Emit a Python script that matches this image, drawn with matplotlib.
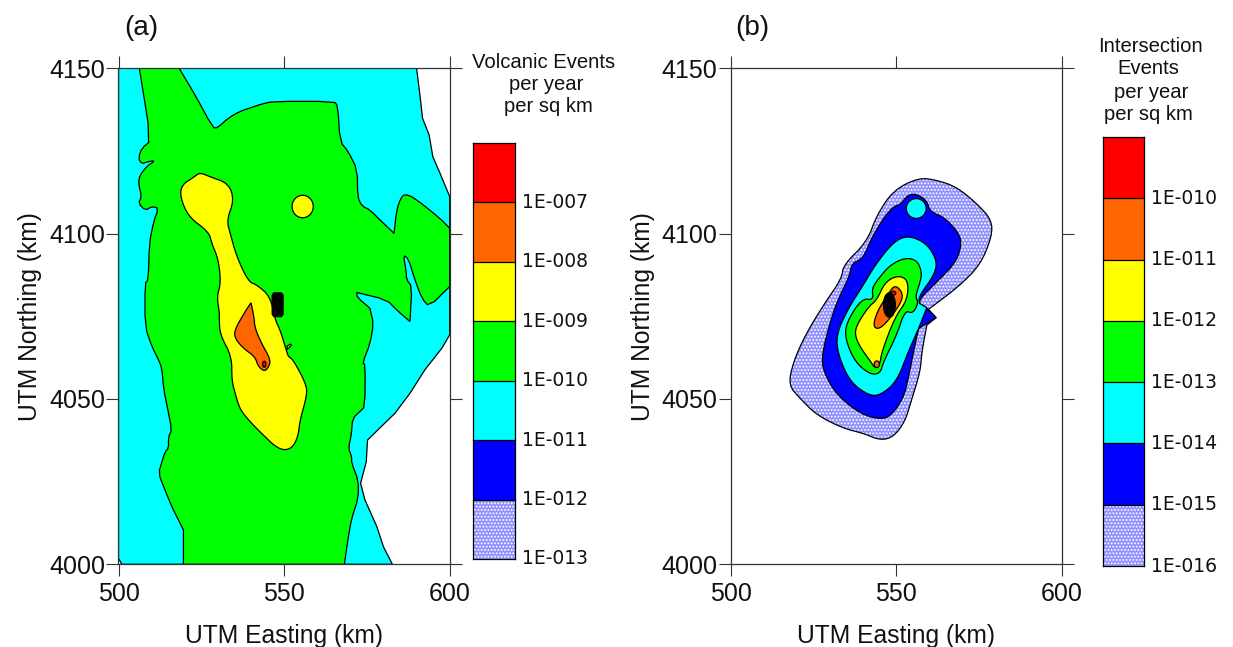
import matplotlib
matplotlib.use('Agg')
import matplotlib.pyplot as plt
from matplotlib.patches import Polygon, Ellipse

W, H = 1233, 647
plt.rcParams['font.family'] = ['Liberation Sans', 'DejaVu Sans']
plt.rcParams['hatch.linewidth'] = 0.9

RED = '#ff0000'
ORANGE = '#ff6600'
YELLOW = '#ffff00'
GREEN = '#00ff00'
CYAN = '#00ffff'
BLUE = '#0000ff'
HATCH_FACE = '#8f8fff'

xticks = [500, 550, 600]
yticks = [4000, 4050, 4100, 4150]

# panel a contours, km
a_cyan = [(500, 4150), (590, 4150), (591, 4142), (591.8, 4134.9), (593.8, 4129.8), (594.9, 4123.3),
          (597.1, 4118.2), (600, 4111.2), (600, 4069.4), (597.6, 4065.3), (592.5, 4058.8), (588, 4051.7),
          (583.5, 4045.7), (575.2, 4037.6), (574.8, 4031), (573.1, 4024.5), (574.4, 4019.5), (578, 4011.4),
          (580, 4005.3), (582.7, 4000), (501, 4000), (500, 4001.8)]
a_green = [(506.3, 4150), (518.3, 4150), (523.1, 4142), (528.5, 4132), (529.9, 4132), (533.2, 4135),
           (536.7, 4137), (539.7, 4138), (543.2, 4139.2), (546.8, 4140), (565.1, 4140), (566.2, 4138.6),
           (566.9, 4127.8), (569.4, 4124.8), (572.1, 4119.3), (572.2, 4111.2), (573.4, 4108.4), (575.9, 4107.2),
           (579.5, 4103.6), (583.2, 4100.1), (584, 4107.2), (585.2, 4110.7), (586.5, 4112), (589.5, 4110.7),
           (597.1, 4104.6), (600, 4101.6), (600, 4084), (593.8, 4077.9), (591.6, 4080.4), (589.5, 4086),
           (587.5, 4092.5), (586, 4093.5), (586.8, 4089), (587, 4086), (588.6, 4084), (588, 4073.4),
           (584, 4076.9), (581, 4080), (571.9, 4082.2), (572.1, 4080.7), (576, 4077.4), (576, 4076.9),
           (577, 4072.9), (576, 4066.8), (573.7, 4061), (574.5, 4060.3), (574.4, 4047.7), (572.9, 4046.2),
           (570.7, 4044.2), (570.3, 4039.1), (569.4, 4035.1), (570.4, 4032.6), (570.4, 4030.5), (572.4, 4025.5),
           (572.4, 4020), (570.4, 4013.9), (569.4, 4008.4), (568.2, 4000), (519.6, 4000), (519.6, 4010.4),
           (518.1, 4013.4), (516.1, 4017.4), (513.6, 4023.5), (512.1, 4027.5), (513.1, 4031), (514.1, 4034.1),
           (515.1, 4035.1), (515.1, 4038.6), (516.1, 4040.6), (514.8, 4047.2), (513.6, 4053.2), (513.1, 4059.3),
           (512.1, 4061.8), (510.1, 4065.8), (508, 4071.9), (508, 4085), (509, 4086), (509.3, 4097),
           (510.6, 4103.6), (512.1, 4107.7), (510.1, 4108.2), (508.1, 4107), (506, 4109.2), (507, 4111.2),
           (506, 4115.2), (506.5, 4117.7), (508.5, 4120.3), (511.1, 4122.1), (509, 4121.8), (507, 4121.1),
           (506, 4122.8), (507, 4125.8), (509.8, 4128.1)]
a_yellow = [(524.6, 4118.5), (527.6, 4117.2), (533.2, 4115.2), (534.9, 4110.2), (532.7, 4104.1), (533.7, 4100.1),
            (535.7, 4093), (539.2, 4085.5), (541.8, 4084.5), (545.8, 4081), (547.3, 4073.9), (548.8, 4070.9),
            (550.8, 4064.3), (551.3, 4062.8), (552.8, 4061.8), (556.8, 4054.2), (556.8, 4050.7), (554.8, 4043.6),
            (554.3, 4039.1), (552.8, 4035.6), (550.3, 4034.4), (547.3, 4035.6), (543.2, 4039.6), (540.2, 4042.6),
            (536.7, 4046.7), (535.2, 4051.7), (534.2, 4055.7), (534.2, 4062.8), (530.7, 4069.4), (530.4, 4073.9),
            (530.5, 4075.9), (529.7, 4081), (530.9, 4085), (530.2, 4092), (528.2, 4097), (527.2, 4100.6),
            (521.1, 4105.1), (518.6, 4111.2), (519.1, 4114.7), (522.6, 4117)]
a_yellow_speck = [(551, 4065), (552.2, 4066.2), (552, 4066.6), (550.9, 4066)]
a_orange = [(540, 4079.1), (540.9, 4074.9), (541.2, 4071.4), (543.2, 4066.8), (545.7, 4062.3), (545.7, 4060.3),
            (544.2, 4058.2), (542.2, 4059.8), (541.2, 4062.8), (537.7, 4065.3), (535.2, 4068.3), (535, 4070.8),
            (538.2, 4076.4)]
a_block = [(546.9, 4082.1), (549.2, 4082.1), (549.7, 4081.4), (549.7, 4075.6), (549.2, 4074.9), (546.9, 4074.9),
           (546.4, 4075.6), (546.4, 4081.4)]
# ellipses: colour, centre x, centre y, radius x, radius y
a_spots = [(YELLOW, 555.6, 4108.2, 3.2, 3.4), (RED, 544, 4060.5, 0.5, 0.9)]
a_green_sharp = [(506.3, 4150), (518.3, 4150), (583.2, 4100.1), (600, 4101.6), (600, 4084), (588, 4073.4),
                 (571.9, 4082.2), (568.2, 4000), (519.6, 4000), (519.6, 4010.4)]

# panel b contours, km
b_hatched = [(556.7, 4116.9), (562.2, 4116.2), (568.2, 4114.1), (574.3, 4109.1), (578.8, 4104.1), (578.8, 4099),
             (575.3, 4090.5), (568.7, 4083.9), (559.7, 4077.1), (562, 4074.6), (559.2, 4072.3), (557.7, 4064.3),
             (557.2, 4058.2), (554.7, 4050.1), (552.6, 4043.1), (549.1, 4038.5), (545.1, 4037.5), (540.1, 4039.6),
             (534, 4041.1), (526, 4045.1), (521, 4050.1), (517.4, 4054.2), (518.9, 4061.2), (522.5, 4069.3),
             (528, 4078.4), (533.5, 4086.4), (534, 4090.5), (541.1, 4097.5), (544.1, 4105.6), (549.1, 4113.1)]
b_blue = [(555.7, 4112.1), (559.2, 4110.1), (560.2, 4106.6), (564.2, 4105.1), (568.2, 4101), (569.8, 4097.5),
          (568.2, 4091.5), (562.2, 4085.4), (557.2, 4080.4), (557, 4078.9), (559.2, 4077.4), (562, 4074.6),
          (556.7, 4071.3), (555.2, 4064.3), (553.6, 4056.2), (552.1, 4050.1), (548.1, 4044.6), (544.6, 4043.9),
          (539, 4045.6), (532, 4051.2), (528, 4058.2), (527.5, 4063.2), (530, 4073.3), (532.5, 4080.4),
          (536, 4087.4), (536.5, 4091), (540, 4092.5), (542.6, 4099), (548.1, 4107.6), (551.6, 4109.1),
          (552.1, 4110.1), (553.6, 4111.6)]
b_cyan = [(553.6, 4099.5), (559.2, 4097), (562.2, 4092), (561.7, 4087.9), (556.7, 4080.9), (557, 4078.9),
          (559.2, 4077.6), (556.7, 4071.3), (553.6, 4064.3), (550.1, 4055.2), (545.1, 4051.1), (541.6, 4051.1),
          (536, 4055.2), (532.5, 4063.2), (531.8, 4069.3), (535.5, 4077.4), (540, 4084.4), (543.6, 4090.5),
          (549.1, 4097.5)]
b_green = [(552.6, 4092.7), (556.2, 4092), (557.7, 4088.4), (557.2, 4085.4), (555.7, 4080.9), (556.7, 4079.2),
           (555, 4075.8), (552.6, 4076.8), (550.1, 4069.3), (546.1, 4061.2), (545.1, 4057.7), (542.1, 4057.4),
           (537.5, 4061.2), (534.5, 4068.3), (535, 4073.3), (539.6, 4080.4), (543.1, 4079.9), (542.6, 4083.4),
           (544.6, 4086.4), (548.1, 4090.5)]
b_yellow = [(550.6, 4087.4), (553.6, 4085.9), (553.3, 4079.9), (549.6, 4074.8), (545.6, 4064.3), (545.1, 4060.7),
            (543.6, 4059.2), (542.3, 4061.2), (539, 4065.8), (537.5, 4069.3), (538, 4072.3), (541.6, 4077.9),
            (544.1, 4079.9), (546.6, 4085.4)]
b_orange = [(549.6, 4084.6), (552.1, 4081.9), (551.1, 4078.4), (545.6, 4071.3), (542.9, 4071.5), (544.1, 4076.3),
            (547.6, 4081.9)]
b_spots = [(CYAN, 556, 4107.6, 3.0, 3.0), (ORANGE, 544.1, 4060.5, 0.8, 1.0), (RED, 549.1, 4082, 0.7, 0.6),
           ('black', 547.9, 4078.4, 1.8, 3.7)]
b_sharp = [(559.7, 4077.1), (562, 4074.6), (559.2, 4072.3), (559.2, 4077.4), (557, 4078.9), (556.7, 4071.3),
           (559.2, 4077.6)]

bar_colors = ['hatch', BLUE, CYAN, GREEN, YELLOW, ORANGE, RED]
a_levels = ['1E-013', '1E-012', '1E-011', '1E-010', '1E-009', '1E-008', '1E-007']
b_levels = ['1E-016', '1E-015', '1E-014', '1E-013', '1E-012', '1E-011', '1E-010']


def add_ax(left, top, right, bottom):
    return fig.add_axes([left / W, 1 - bottom / H, (right - left) / W, (bottom - top) / H])


def px_text(x, y, s, size):
    fig.text(x / W, 1 - y / H, s, fontsize=size, ha='center', va='center', color='#111111')


# round off the corners of a contour when it is drawn, points in keep stay sharp
def rounded(pts, rounds=2, keep=()):
    for _ in range(rounds):
        out = []
        n = len(pts)
        for i in range(n):
            x, y = pts[i]
            if pts[i] in keep:
                out.append(pts[i])
                continue
            xa, ya = pts[i - 1]
            xb, yb = pts[(i + 1) % n]
            out.append((0.75 * x + 0.25 * xa, 0.75 * y + 0.25 * ya))
            out.append((0.75 * x + 0.25 * xb, 0.75 * y + 0.25 * yb))
        pts = out
    return pts


def fill(ax, pts, color):
    if color == 'hatch':
        ax.add_patch(Polygon(pts, closed=True, facecolor=HATCH_FACE, edgecolor='white', hatch='.....', lw=0))
        ax.add_patch(Polygon(pts, closed=True, fill=False, edgecolor='black', lw=0.9))
    else:
        ax.add_patch(Polygon(pts, closed=True, facecolor=color, edgecolor='black', lw=0.9))


def spots(ax, items):
    for c, x, y, rx, ry in items:
        ax.add_patch(Ellipse((x, y), 2 * rx, 2 * ry, facecolor=c, edgecolor='black', lw=0.9))


def map_axes(ax):
    ax.set_xlim(500, 600)
    ax.set_ylim(4000, 4150)
    ax.set_xticks(xticks)
    ax.set_yticks(yticks)
    ax.tick_params(direction='out', length=8.5, width=0.8, labelsize=18, top=True, right=True,
                   color='#333333', labelcolor='#111111')
    ax.tick_params(axis='x', pad=4)
    ax.tick_params(axis='y', pad=1)
    for s in ax.spines.values():
        s.set_linewidth(0.9)
        s.set_color('#333333')
        s.set_zorder(10)
    ax.set_xlabel('UTM Easting (km)', fontsize=17.7, labelpad=13, color='#111111')
    ax.set_ylabel('UTM Northing (km)', fontsize=17.7, labelpad=5, color='#111111')


def bar_axes(ax, levels):
    ax.set_xlim(0, 1)
    ax.set_ylim(0, 7)
    ax.axis('off')
    for i, c in enumerate(bar_colors):
        if c == 'hatch':
            ax.bar(0.5, 1, 1, bottom=i, facecolor=HATCH_FACE, edgecolor='white', hatch='.....', lw=0)
        else:
            ax.bar(0.5, 1, 1, bottom=i, color=c)
    for i in range(8):
        ax.plot([0, 1], [i, i], color='black', lw=0.9, clip_on=False)
    ax.plot([0, 0], [0, 7], color='black', lw=0.9, clip_on=False)
    ax.plot([1, 1], [0, 7], color='black', lw=0.9, clip_on=False)
    for i, s in enumerate(levels):
        ax.text(1.17, i, s, fontsize=13.5, family='DejaVu Sans', va='center', ha='left', color='#111111',
                clip_on=False)


fig = plt.figure(figsize=(W / 100, H / 100), dpi=100)

ax1 = add_ax(118.5, 68.3, 449.7, 564.3)
fill(ax1, a_cyan, CYAN)
fill(ax1, rounded(a_green, 1, a_green_sharp), GREEN)
fill(ax1, rounded(a_yellow), YELLOW)
fill(ax1, a_yellow_speck, YELLOW)
fill(ax1, rounded(a_orange, 2, [(540, 4079.1)]), ORANGE)
fill(ax1, a_block, 'black')
spots(ax1, a_spots)
map_axes(ax1)

ax2 = add_ax(730.7, 68.3, 1062, 564.3)
fill(ax2, rounded(b_hatched, 2, b_sharp), 'hatch')
fill(ax2, rounded(b_blue, 2, b_sharp), BLUE)
fill(ax2, rounded(b_cyan, 2, b_sharp), CYAN)
fill(ax2, rounded(b_green), GREEN)
fill(ax2, rounded(b_yellow), YELLOW)
fill(ax2, rounded(b_orange), ORANGE)
spots(ax2, b_spots)
map_axes(ax2)

bar_axes(add_ax(473, 143, 515, 559), a_levels)
bar_axes(add_ax(1103, 137, 1144, 566), b_levels)

px_text(141, 28, '(a)', 20)
px_text(752, 28, '(b)', 20)
px_text(544, 62, 'Volcanic Events', 14.6)
px_text(546, 84, 'per year', 14.6)
px_text(548, 106, 'per sq km', 14.6)
px_text(1150, 47, 'Intersection', 14.6)
px_text(1148, 69, 'Events', 14.6)
px_text(1151, 92, 'per year', 14.6)
px_text(1148, 115, 'per sq km', 14.6)

fig.savefig('out.png', dpi=100)
